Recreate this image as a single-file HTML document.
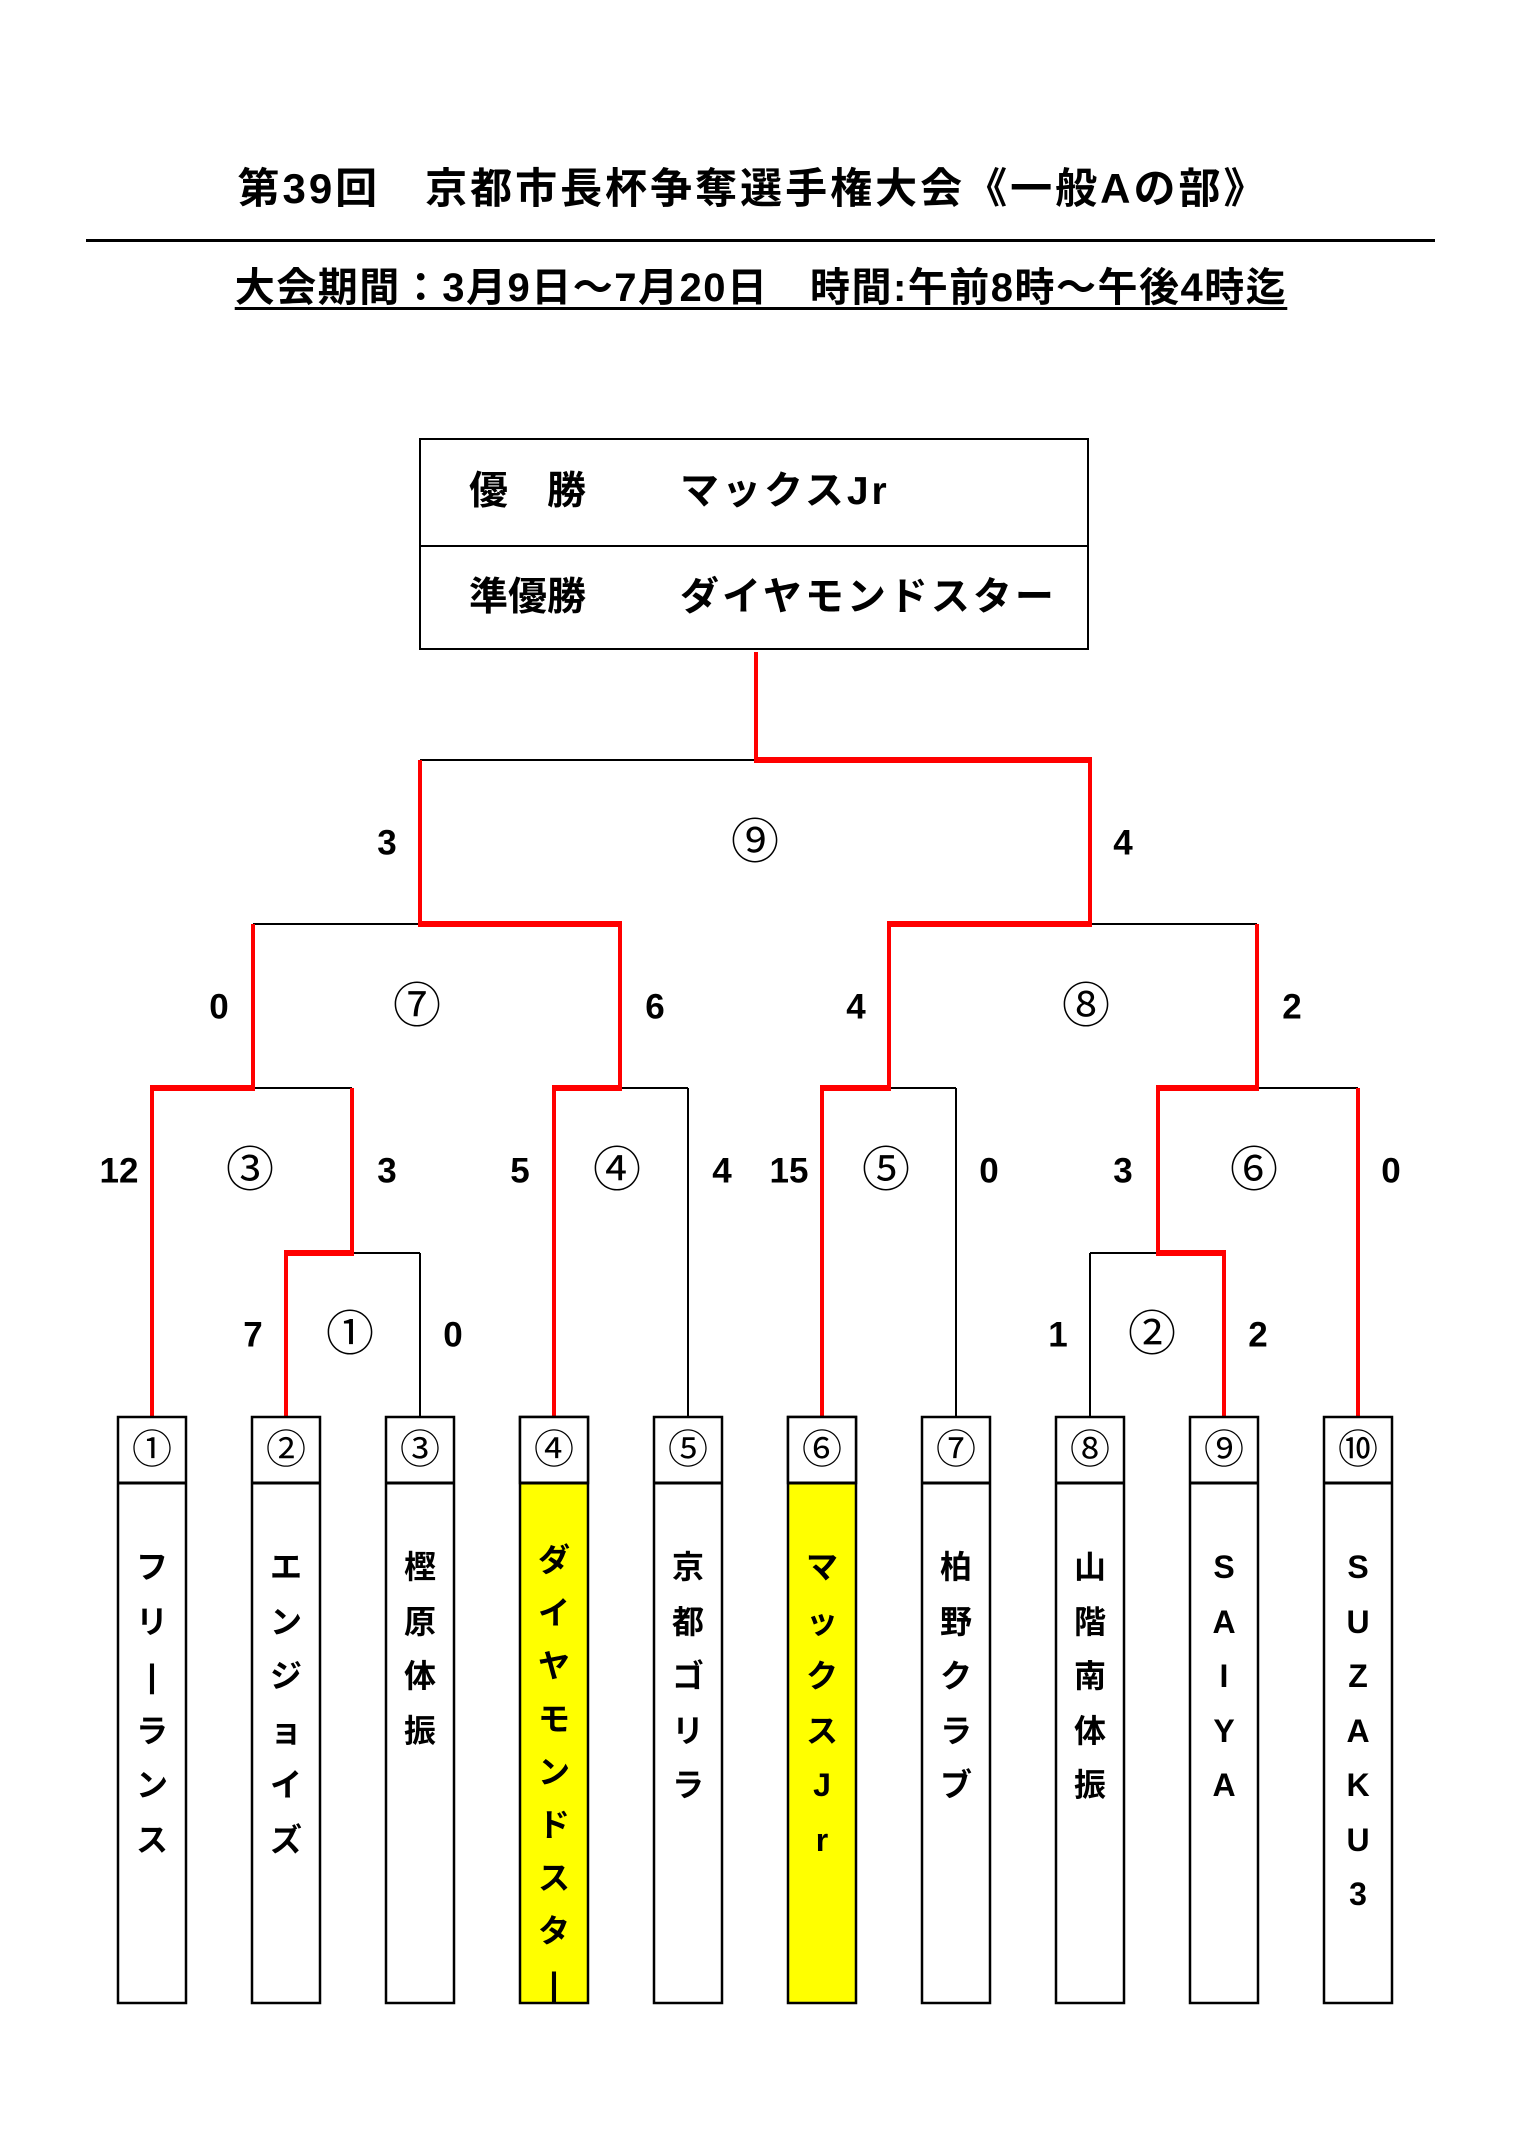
<!DOCTYPE html>
<html><head><meta charset="utf-8"><style>
body{margin:0;width:1518px;height:2150px;background:#fff;position:relative;overflow:hidden;font-family:"Liberation Sans","Noto Sans CJK JP",sans-serif;font-weight:bold;color:#000}
.t{position:absolute;white-space:nowrap;transform:translate(-50%,-50%);line-height:1}
.n{font-size:35px}
.c{font-size:48px;font-weight:normal}
.b{font-size:40px;font-weight:normal}
.col{position:absolute;width:68px;text-align:center;font-size:32px;line-height:54.5px}
.col div{height:54.5px}
</style></head><body>
<div class="t" style="left:753px;top:189px;font-size:42px;letter-spacing:3px">第39回　京都市長杯争奪選手権大会《一般Aの部》</div>
<div style="position:absolute;left:86px;top:239px;width:1349px;height:3px;background:#000"></div>
<div class="t" style="left:761px;top:288px;font-size:40px;letter-spacing:1.5px;text-decoration:underline;text-decoration-thickness:3px;text-underline-offset:6px">大会期間：3月9日～7月20日　時間:午前8時～午後4時迄</div>
<div style="position:absolute;left:419px;top:438px;width:670px;height:212px;border:2px solid #000;box-sizing:border-box"></div>
<div style="position:absolute;left:419px;top:545px;width:670px;height:2px;background:#000"></div>
<div style="position:absolute;left:469px;top:472px;font-size:39px;line-height:1">優　勝</div>
<div style="position:absolute;left:680px;top:472px;font-size:39px;line-height:1;letter-spacing:3px">マックスJr</div>
<div style="position:absolute;left:469px;top:578px;font-size:39px;line-height:1">準優勝</div>
<div style="position:absolute;left:680px;top:578px;font-size:39px;line-height:1;letter-spacing:3px">ダイヤモンドスター</div>
<svg width="1518" height="2150" style="position:absolute;left:0;top:0" fill="none">
<g stroke="#000" stroke-width="2">
<line x1="420" y1="760" x2="756" y2="760"/>
<line x1="253" y1="924" x2="420" y2="924"/>
<line x1="1090" y1="924" x2="1257" y2="924"/>
<line x1="253" y1="1088" x2="352" y2="1088"/>
<line x1="620" y1="1088" x2="688" y2="1088"/>
<line x1="889" y1="1088" x2="956" y2="1088"/>
<line x1="1257" y1="1088" x2="1358" y2="1088"/>
<line x1="352" y1="1253" x2="420" y2="1253"/>
<line x1="1090" y1="1253" x2="1158" y2="1253"/>
<line x1="688" y1="1088" x2="688" y2="1417"/>
<line x1="956" y1="1088" x2="956" y2="1417"/>
<line x1="420" y1="1253" x2="420" y2="1417"/>
<line x1="1090" y1="1253" x2="1090" y2="1417"/>
</g>
<g stroke="#f00" stroke-width="4">
<line x1="756" y1="652" x2="756" y2="760"/>
<line x1="420" y1="760" x2="420" y2="924"/>
<line x1="1090" y1="760" x2="1090" y2="924"/>
<line x1="253" y1="924" x2="253" y2="1088"/>
<line x1="620" y1="924" x2="620" y2="1088"/>
<line x1="889" y1="924" x2="889" y2="1088"/>
<line x1="1257" y1="924" x2="1257" y2="1088"/>
<line x1="152" y1="1088" x2="152" y2="1417"/>
<line x1="352" y1="1088" x2="352" y2="1253"/>
<line x1="554" y1="1088" x2="554" y2="1417"/>
<line x1="822" y1="1088" x2="822" y2="1417"/>
<line x1="1158" y1="1088" x2="1158" y2="1253"/>
<line x1="1358" y1="1088" x2="1358" y2="1417"/>
<line x1="286" y1="1253" x2="286" y2="1417"/>
<line x1="1224" y1="1253" x2="1224" y2="1417"/>
</g>
<g stroke="#f00" stroke-width="6">
<line x1="754" y1="760" x2="1092" y2="760"/>
<line x1="418" y1="924" x2="622" y2="924"/>
<line x1="887" y1="924" x2="1092" y2="924"/>
<line x1="150" y1="1088" x2="255" y2="1088"/>
<line x1="552" y1="1088" x2="622" y2="1088"/>
<line x1="820" y1="1088" x2="891" y2="1088"/>
<line x1="1156" y1="1088" x2="1259" y2="1088"/>
<line x1="284" y1="1253" x2="354" y2="1253"/>
<line x1="1156" y1="1253" x2="1226" y2="1253"/>
</g>
<g stroke="#000" stroke-width="2.5">
<rect x="118" y="1417" width="68" height="586" fill="#fff"/>
<rect x="252" y="1417" width="68" height="586" fill="#fff"/>
<rect x="386" y="1417" width="68" height="586" fill="#fff"/>
<rect x="520" y="1417" width="68" height="586" fill="#ff0"/>
<rect x="654" y="1417" width="68" height="586" fill="#fff"/>
<rect x="788" y="1417" width="68" height="586" fill="#ff0"/>
<rect x="922" y="1417" width="68" height="586" fill="#fff"/>
<rect x="1056" y="1417" width="68" height="586" fill="#fff"/>
<rect x="1190" y="1417" width="68" height="586" fill="#fff"/>
<rect x="1324" y="1417" width="68" height="586" fill="#fff"/>
<rect x="520" y="1417" width="68" height="66" fill="#fff"/>
<rect x="788" y="1417" width="68" height="66" fill="#fff"/>
</g>
<g stroke="#000" stroke-width="3">
<line x1="118" y1="1483" x2="186" y2="1483"/><line x1="252" y1="1483" x2="320" y2="1483"/>
<line x1="386" y1="1483" x2="454" y2="1483"/><line x1="520" y1="1483" x2="588" y2="1483"/>
<line x1="654" y1="1483" x2="722" y2="1483"/><line x1="788" y1="1483" x2="856" y2="1483"/>
<line x1="922" y1="1483" x2="990" y2="1483"/><line x1="1056" y1="1483" x2="1124" y2="1483"/>
<line x1="1190" y1="1483" x2="1258" y2="1483"/><line x1="1324" y1="1483" x2="1392" y2="1483"/>
</g>
</svg>
<div class="t n" style="left:387px;top:843px">3</div>
<div class="t c" style="left:755px;top:843px">⑨</div>
<div class="t n" style="left:1123px;top:843px">4</div>
<div class="t n" style="left:219px;top:1007px">0</div>
<div class="t c" style="left:417px;top:1007px">⑦</div>
<div class="t n" style="left:655px;top:1007px">6</div>
<div class="t n" style="left:856px;top:1007px">4</div>
<div class="t c" style="left:1086px;top:1007px">⑧</div>
<div class="t n" style="left:1292px;top:1007px">2</div>
<div class="t n" style="left:119px;top:1171px">12</div>
<div class="t c" style="left:250px;top:1171px">③</div>
<div class="t n" style="left:387px;top:1171px">3</div>
<div class="t n" style="left:520px;top:1171px">5</div>
<div class="t c" style="left:617px;top:1171px">④</div>
<div class="t n" style="left:722px;top:1171px">4</div>
<div class="t n" style="left:789px;top:1171px">15</div>
<div class="t c" style="left:886px;top:1171px">⑤</div>
<div class="t n" style="left:989px;top:1171px">0</div>
<div class="t n" style="left:1123px;top:1171px">3</div>
<div class="t c" style="left:1254px;top:1171px">⑥</div>
<div class="t n" style="left:1391px;top:1171px">0</div>
<div class="t n" style="left:253px;top:1335px">7</div>
<div class="t c" style="left:350px;top:1335px">①</div>
<div class="t n" style="left:453px;top:1335px">0</div>
<div class="t n" style="left:1058px;top:1335px">1</div>
<div class="t c" style="left:1152px;top:1335px">②</div>
<div class="t n" style="left:1258px;top:1335px">2</div>
<div class="t b" style="left:152px;top:1450px">①</div>
<div class="t b" style="left:286px;top:1450px">②</div>
<div class="t b" style="left:420px;top:1450px">③</div>
<div class="t b" style="left:554px;top:1450px">④</div>
<div class="t b" style="left:688px;top:1450px">⑤</div>
<div class="t b" style="left:822px;top:1450px">⑥</div>
<div class="t b" style="left:956px;top:1450px">⑦</div>
<div class="t b" style="left:1090px;top:1450px">⑧</div>
<div class="t b" style="left:1224px;top:1450px">⑨</div>
<div class="t b" style="left:1358px;top:1450px">⑩</div>
<div class="col" style="left:118px;top:1540px"><div>フ</div><div>リ</div><div>|</div><div>ラ</div><div>ン</div><div>ス</div></div>
<div class="col" style="left:252px;top:1540px"><div>エ</div><div>ン</div><div>ジ</div><div>ョ</div><div>イ</div><div>ズ</div></div>
<div class="col" style="left:386px;top:1540px"><div>樫</div><div>原</div><div>体</div><div>振</div></div>
<div class="col" style="left:520px;top:1534px;line-height:53px"><div style="height:53px">ダ</div><div style="height:53px">イ</div><div style="height:53px">ヤ</div><div style="height:53px">モ</div><div style="height:53px">ン</div><div style="height:53px">ド</div><div style="height:53px">ス</div><div style="height:53px">タ</div><div style="height:53px">|</div></div>
<div class="col" style="left:654px;top:1540px"><div>京</div><div>都</div><div>ゴ</div><div>リ</div><div>ラ</div></div>
<div class="col" style="left:788px;top:1540px"><div>マ</div><div>ッ</div><div>ク</div><div>ス</div><div>J</div><div>r</div></div>
<div class="col" style="left:922px;top:1540px"><div>柏</div><div>野</div><div>ク</div><div>ラ</div><div>ブ</div></div>
<div class="col" style="left:1056px;top:1540px"><div>山</div><div>階</div><div>南</div><div>体</div><div>振</div></div>
<div class="col" style="left:1190px;top:1540px"><div>S</div><div>A</div><div>I</div><div>Y</div><div>A</div></div>
<div class="col" style="left:1324px;top:1540px"><div>S</div><div>U</div><div>Z</div><div>A</div><div>K</div><div>U</div><div>3</div></div>
</body></html>
